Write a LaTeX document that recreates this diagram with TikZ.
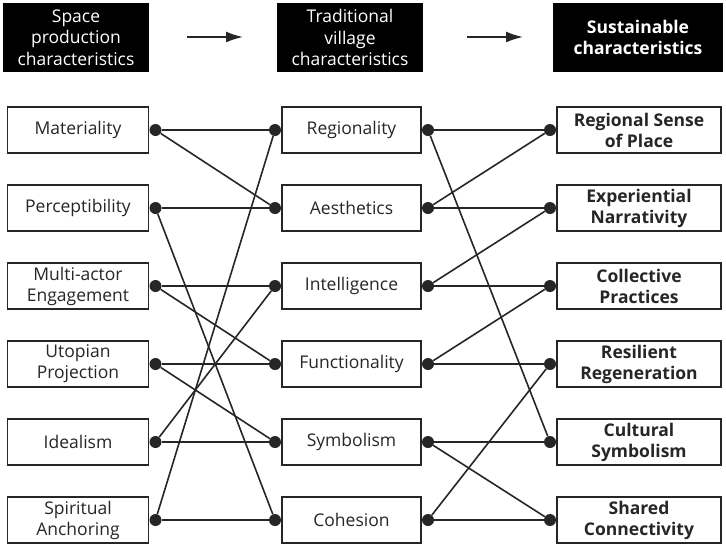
\documentclass[tikz,border=0pt]{standalone}
\usepackage{fontspec}
\setmainfont{Open Sans}
\usetikzlibrary{arrows.meta}
\usetikzlibrary{positioning}
\definecolor{ink}{HTML}{262626}
\tikzset{circ/.style = {fill = ink, circle, inner sep = 0, minimum size = 12}}
\tikzset{itembox/.style = {draw = ink, line width = 1.6, fill = white, text = ink, inner sep = 0, minimum height = 46, align = center, font = \fontsize{17.5}{21}\selectfont}}
\tikzset{headbox/.style = {fill = black, text = white, inner sep = 0, minimum height = 69, align = center, font = \fontsize{17.5}{21.5}\selectfont}}
\tikzset{link/.style = {draw = ink, line width = 1.6}}

\begin{document}
\begin{tikzpicture}[x=1pt, y=-1pt]
\useasboundingbox (0, 0) rectangle (726, 547);

      \node [headbox, minimum width = 146] (hspace) at (76, 37.5) {Space\\production\\characteristics};
      \node [headbox, minimum width = 146] (hvillage) at (350, 37.5) {Traditional\\village\\characteristics};
      \node [headbox, minimum width = 170, font = \fontsize{17.5}{21.5}\selectfont\bfseries] (hsust) at (638, 37.5) {Sustainable\\characteristics};

      \coordinate (arrA) at (187, 37);
      \coordinate (arrB) at (243, 37);
      \coordinate (arrC) at (467, 37);
      \coordinate (arrD) at (523, 37);
      \draw [link, -{Latex[length=17pt, width=11pt]}] (arrA) -- (arrB);
      \draw [link, -{Latex[length=17pt, width=11pt]}] (arrC) -- (arrD);

% space production
      \node [itembox, minimum width = 141] (mat) at (78, 130) {Materiality};
      \node [itembox, minimum width = 141] (per) at (78, 208) {Perceptibility};
      \node [itembox, minimum width = 141] (mul) at (78, 286) {Multi-actor\\Engagement};
      \node [itembox, minimum width = 141] (uto) at (78, 364) {Utopian\\Projection};
      \node [itembox, minimum width = 141] (ide) at (78, 442) {Idealism};
      \node [itembox, minimum width = 141] (spi) at (78, 520) {Spiritual\\Anchoring};

% village
      \node [itembox, minimum width = 139] (reg) at (351.5, 130) {Regionality};
      \node [itembox, minimum width = 139] (aes) at (351.5, 208) {Aesthetics};
      \node [itembox, minimum width = 139] (int) at (351.5, 286) {Intelligence};
      \node [itembox, minimum width = 139] (fun) at (351.5, 364) {Functionality};
      \node [itembox, minimum width = 139] (sym) at (351.5, 442) {Symbolism};
      \node [itembox, minimum width = 139] (coh) at (351.5, 520) {Cohesion};

% sustainable
      \node [itembox, minimum width = 164, font = \fontsize{17.5}{21}\selectfont\bfseries] (rsp) at (639, 130) {Regional Sense\\of Place};
      \node [itembox, minimum width = 164, font = \fontsize{17.5}{21}\selectfont\bfseries] (exp) at (639, 208) {Experiential\\Narrativity};
      \node [itembox, minimum width = 164, font = \fontsize{17.5}{21}\selectfont\bfseries] (col) at (639, 286) {Collective\\Practices};
      \node [itembox, minimum width = 164, font = \fontsize{17.5}{21}\selectfont\bfseries] (res) at (639, 364) {Resilient\\Regeneration};
      \node [itembox, minimum width = 164, font = \fontsize{17.5}{21}\selectfont\bfseries] (cus) at (639, 442) {Cultural\\Symbolism};
      \node [itembox, minimum width = 164, font = \fontsize{17.5}{21}\selectfont\bfseries] (sha) at (639, 520) {Shared\\Connectivity};

      \node [circ, right = 0pt of mat] (matR) {};
      \node [circ, right = 0pt of per] (perR) {};
      \node [circ, right = 0pt of mul] (mulR) {};
      \node [circ, right = 0pt of uto] (utoR) {};
      \node [circ, right = 0pt of ide] (ideR) {};
      \node [circ, right = 0pt of spi] (spiR) {};
      \node [circ, left = 0pt of reg] (regL) {};
      \node [circ, left = 0pt of aes] (aesL) {};
      \node [circ, left = 0pt of int] (intL) {};
      \node [circ, left = 0pt of fun] (funL) {};
      \node [circ, left = 0pt of sym] (symL) {};
      \node [circ, left = 0pt of coh] (cohL) {};
      \node [circ, right = 0pt of reg] (regR) {};
      \node [circ, right = 0pt of aes] (aesR) {};
      \node [circ, right = 0pt of int] (intR) {};
      \node [circ, right = 0pt of fun] (funR) {};
      \node [circ, right = 0pt of sym] (symR) {};
      \node [circ, right = 0pt of coh] (cohR) {};
      \node [circ, left = 0pt of rsp] (rspL) {};
      \node [circ, left = 0pt of exp] (expL) {};
      \node [circ, left = 0pt of col] (colL) {};
      \node [circ, left = 0pt of res] (resL) {};
      \node [circ, left = 0pt of cus] (cusL) {};
      \node [circ, left = 0pt of sha] (shaL) {};

      \draw [link] (matR) -- (regL);
      \draw [link] (matR) -- (aesL);
      \draw [link] (perR) -- (aesL);
      \draw [link] (perR) -- (cohL);
      \draw [link] (mulR) -- (intL);
      \draw [link] (mulR) -- (funL);
      \draw [link] (utoR) -- (funL);
      \draw [link] (utoR) -- (symL);
      \draw [link] (ideR) -- (symL);
      \draw [link] (ideR) -- (intL);
      \draw [link] (spiR) -- (cohL);
      \draw [link] (spiR) -- (regL);

      \draw [link] (regR) -- (rspL);
      \draw [link] (regR) -- (cusL);
      \draw [link] (aesR) -- (rspL);
      \draw [link] (aesR) -- (expL);
      \draw [link] (intR) -- (expL);
      \draw [link] (intR) -- (colL);
      \draw [link] (funR) -- (colL);
      \draw [link] (funR) -- (resL);
      \draw [link] (symR) -- (cusL);
      \draw [link] (symR) -- (shaL);
      \draw [link] (cohR) -- (shaL);
      \draw [link] (cohR) -- (resL);
    \end{tikzpicture}
\end{document}
